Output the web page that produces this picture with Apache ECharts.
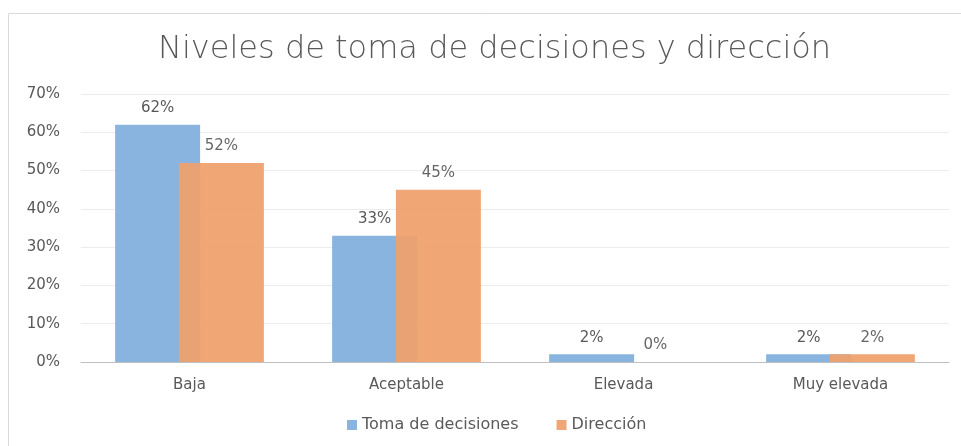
<!DOCTYPE html>
<html>
<head>
<meta charset="utf-8">
<script src="https://cdn.jsdelivr.net/npm/echarts@6/dist/echarts.min.js"></script>
<style>
  html, body { margin: 0; padding: 0; background: #fff; }
  #chart { width: 961px; height: 446px; }
</style>
</head>
<body>
<div id="chart"></div>
<script>
// datos
const categories = ["Baja", "Aceptable", "Elevada", "Muy elevada"];
const tomaDecisiones = [62, 33, 2, 2];
const direccion = [52, 45, 0, 2];
const yTicks = [0, 10, 20, 30, 40, 50, 60, 70];

const chart = echarts.init(document.getElementById("chart"));

const FONT = "DejaVu Sans";

const labelStyle = {
  show: true,
  position: "top",
  distance: 9,
  formatter: "{c}%",
  color: "#595959",
  fontSize: 15,
  fontFamily: FONT,
};

const options = {
  animation: false,
  title: {
    text: "Niveles de toma de decisiones y dirección",
    left: 153,
    top: 29,
    textStyle: {
      fontFamily: FONT,
      fontWeight: 200,
      fontSize: 32,
      color: "#595959",
    },
  },
  // marco del grafico
  graphic: [
    {
      type: "rect",
      shape: { x: 8.5, y: 13.5, width: 960, height: 440 },
      style: { fill: "none", stroke: "#d9d9d9", lineWidth: 1 },
      silent: true,
    },
  ],
  grid: {
    left: 81,
    right: 12,
    top: 94,
    bottom: 84,
  },
  legend: {
    bottom: 8,
    left: 342,
    itemWidth: 10,
    itemHeight: 10,
    itemGap: 38,
    icon: "rect",
    textStyle: {
      color: "#595959",
      fontSize: 16,
      fontFamily: FONT,
    },
    data: ["Toma de decisiones", "Dirección"],
  },
  xAxis: {
    type: "category",
    data: categories,
    axisTick: { show: false },
    axisLine: { lineStyle: { color: "#bfbfbf", width: 1 } },
    axisLabel: {
      color: "#595959",
      fontSize: 15,
      fontFamily: FONT,
      margin: 16,
    },
  },
  yAxis: {
    type: "value",
    min: yTicks[0],
    max: yTicks[yTicks.length - 1],
    interval: 10,
    axisLabel: {
      formatter: "{value}%",
      color: "#595959",
      fontSize: 15,
      fontFamily: FONT,
      margin: 21,
    },
    splitLine: { lineStyle: { color: "#ececec" } },
    axisLine: { show: false },
    axisTick: { show: false },
  },
  series: [
    {
      name: "Toma de decisiones",
      type: "bar",
      data: tomaDecisiones,
      barWidth: 85,
      barGap: "-25%",
      itemStyle: { color: "#89b4e0" },
      label: labelStyle,
    },
    {
      name: "Dirección",
      type: "bar",
      data: direccion,
      barWidth: 85,
      itemStyle: { color: "#efa06b", opacity: 0.93 },
      label: labelStyle,
    },
  ],
};

chart.setOption(options);

window.addEventListener("resize", () => {
  chart.resize();
});
</script>
</body>
</html>
